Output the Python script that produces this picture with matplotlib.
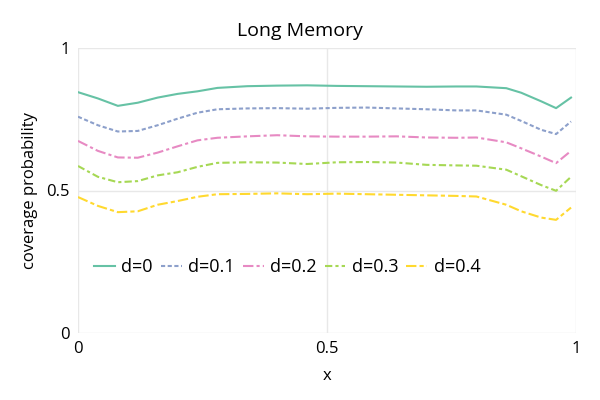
import numpy as np
import matplotlib.pyplot as plt

plt.rcParams['font.family'] = ['Open Sans', 'DejaVu Sans']
plt.rcParams['font.size'] = 12

# Datos
x = [0.0, 0.04, 0.08, 0.12, 0.16, 0.20, 0.24, 0.28, 0.34, 0.40, 0.46, 0.52,
     0.58, 0.64, 0.70, 0.76, 0.80, 0.86, 0.89, 0.93, 0.96, 0.99]

d0 = [0.845, 0.823, 0.797, 0.808, 0.826, 0.839, 0.848, 0.860, 0.866, 0.868, 0.869, 0.867,
      0.866, 0.865, 0.864, 0.865, 0.865, 0.859, 0.843, 0.813, 0.789, 0.826]
d01 = [0.759, 0.729, 0.707, 0.709, 0.729, 0.752, 0.773, 0.785, 0.788, 0.789, 0.787, 0.790,
       0.791, 0.788, 0.785, 0.781, 0.781, 0.766, 0.744, 0.713, 0.698, 0.742]
d02 = [0.674, 0.639, 0.616, 0.615, 0.633, 0.655, 0.676, 0.685, 0.690, 0.694, 0.690, 0.689,
       0.689, 0.690, 0.686, 0.685, 0.686, 0.669, 0.648, 0.619, 0.596, 0.639]
d03 = [0.586, 0.548, 0.529, 0.533, 0.553, 0.564, 0.583, 0.597, 0.599, 0.598, 0.593, 0.599,
       0.600, 0.598, 0.590, 0.588, 0.587, 0.573, 0.550, 0.519, 0.499, 0.548]
d04 = [0.477, 0.446, 0.424, 0.427, 0.450, 0.463, 0.478, 0.487, 0.488, 0.490, 0.487, 0.489,
       0.487, 0.485, 0.483, 0.481, 0.479, 0.450, 0.427, 0.405, 0.397, 0.440]

series = [('d=0', d0, '#66c2a5', '-'),
          ('d=0.1', d01, '#8da0cb', (0, (2, 1.2))),
          ('d=0.2', d02, '#e78ac3', (0, (5, 1.5, 1.5, 1.5))),
          ('d=0.3', d03, '#a6d854', (0, (3.5, 1.5, 1.5, 1.5))),
          ('d=0.4', d04, '#ffd92f', (0, (5, 1.5, 2, 1.5)))]

fig = plt.figure(figsize=(6, 4), dpi=100)
ax = fig.add_axes([0.13, 0.1675, 0.83, 0.7125])

for label, y, color, ls in series:
    ax.plot(x, y, color=color, linestyle=ls, linewidth=1.5, label=label)

ax.set_xlim(0, 1)
ax.set_ylim(0, 1)
ax.set_xticks([0, 0.5, 1])
ax.set_xticklabels(['0', '0.5', '1'])
ax.set_yticks([0, 0.5, 1])
ax.set_yticklabels(['0', '0.5', '1'])
ax.tick_params(length=0, pad=6, labelsize=12)
ax.grid(True, color='#e8e8e8', linewidth=1)
for s in ax.spines.values():
    s.set_visible(False)

fig.suptitle('Long Memory', fontsize=14, x=0.5, y=0.945)
ax.set_xlabel('x', fontsize=12, labelpad=8)
ax.set_ylabel('coverage probability', fontsize=12, labelpad=6)

ax.legend(loc='center left', bbox_to_anchor=(0.0, 0.23), ncol=5, frameon=False,
          handlelength=1.15, handletextpad=0.35, columnspacing=0.45, fontsize=13)

fig.savefig('out.png', dpi=100)
